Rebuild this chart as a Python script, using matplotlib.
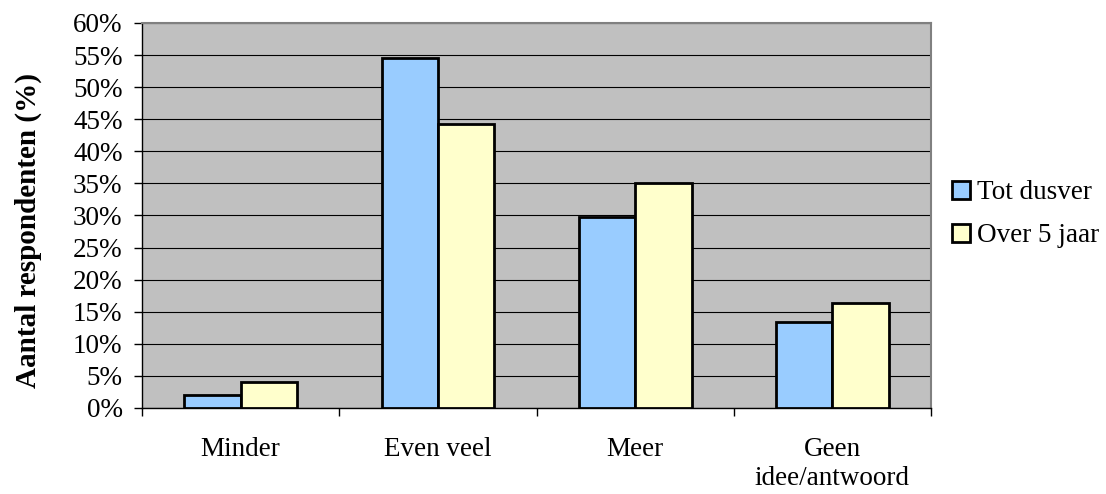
import matplotlib.pyplot as plt
from matplotlib.ticker import FuncFormatter, MultipleLocator
import numpy as np

plt.rcParams['font.family'] = ['Liberation Serif', 'DejaVu Serif']

categories = ['Minder', 'Even veel', 'Meer', 'Geen\nidee/antwoord']
tot_dusver = [2.0, 54.6, 29.8, 13.4]
over_5_jaar = [4.0, 44.3, 35.1, 16.4]
series_names = ['Tot dusver', 'Over 5 jaar']

fs = 19.5
x = np.arange(len(categories))
w = 1 / 3.5  # gap width 150%

fig = plt.figure(figsize=(11.06, 4.94), dpi=100)
ax = fig.add_axes([0.1284, 0.1741, 0.7134, 0.7794])
ax.set_facecolor('#C0C0C0')

ax.bar(x - w / 2, tot_dusver, w, color='#99CCFF', edgecolor='black', linewidth=2,
       label=series_names[0], zorder=3)
ax.bar(x + w / 2, over_5_jaar, w, color='#FFFFCC', edgecolor='black', linewidth=2,
       label=series_names[1], zorder=3)

ax.set_xlim(-0.5, len(categories) - 0.5)
ax.set_ylim(0, 60)
ax.yaxis.set_major_locator(MultipleLocator(5))
ax.yaxis.set_major_formatter(FuncFormatter(lambda v, p: f'{v:.0f}%'))
ax.grid(axis='y', color='black', linewidth=0.8)
ax.set_axisbelow(True)

# categories centred, tick marks between the groups
ax.set_xticks(x)
ax.set_xticklabels(categories, fontsize=fs, linespacing=1.2)
ax.set_xticks(np.arange(-0.5, len(categories)), minor=True)
ax.tick_params(axis='x', which='major', length=0, pad=21)
ax.tick_params(axis='x', which='minor', length=6, width=1, direction='out', color='black')
ax.tick_params(axis='y', length=6, width=1, direction='out', labelsize=fs, pad=8)

for side in ['left', 'bottom']:
    ax.spines[side].set_color('black')
    ax.spines[side].set_linewidth(1)
for side in ['top', 'right']:
    ax.spines[side].set_color('#808080')
    ax.spines[side].set_linewidth(1.5)

fig.text(28 / 1106, 0.534, 'Aantal respondenten (%)', rotation=90, fontsize=21,
         fontweight='bold', ha='center', va='center')

ax.legend(loc='center left', bbox_to_anchor=(0.861, 0.566), bbox_transform=fig.transFigure,
          frameon=False, fontsize=fs, handlelength=0.67, handleheight=0.67,
          handletextpad=0.26, labelspacing=0.67, borderpad=0, borderaxespad=0)

plt.savefig('out.png', dpi=100)
